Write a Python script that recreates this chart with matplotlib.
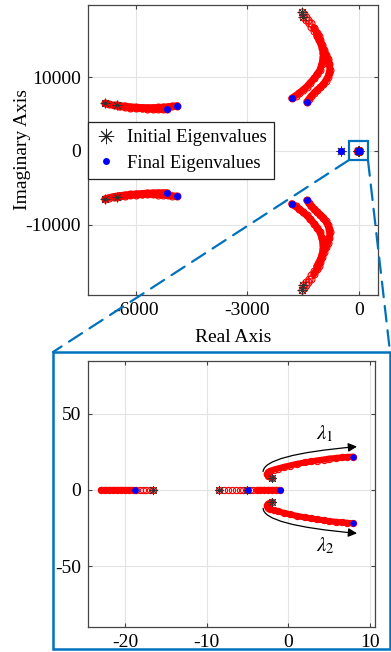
import matplotlib
matplotlib.use("Agg")
import matplotlib.pyplot as plt
import numpy as np
from matplotlib.lines import Line2D
from matplotlib.patches import Rectangle, ConnectionPatch

plt.rcParams['font.family'] = ['Liberation Serif', 'DejaVu Serif']
plt.rcParams['mathtext.fontset'] = 'stix'
plt.rcParams['axes.unicode_minus'] = False

# ---- data: large eigenvalues (upper half plane, conjugates are mirrored) ----
pathA_re = [-6840, -6720, -6600, -6450, -6300, -6150, -6000, -5850, -5700, -5550, -5400, -5280, -5175]
pathA_im = [6450, 6300, 6150, 6040, 5950, 5870, 5800, 5750, 5700, 5670, 5650, 5640, 5640]
pathB_re = [-6520, -6420, -6300, -6150, -6000, -5850, -5700, -5550, -5400, -5270, -5150, -5020, -4890]
pathB_im = [6220, 6140, 6050, 5970, 5900, 5870, 5850, 5860, 5880, 5920, 5980, 6050, 6120]
pathC_re = [-1490, -1420, -1350, -1280, -1200, -1130, -1060, -1000, -940, -880, -830, -790, -775, -790, -830, -890, -950, -1040, -1130, -1210, -1280, -1340, -1400]
pathC_im = [18150, 17700, 17250, 16750, 16200, 15600, 14950, 14300, 13650, 13000, 12400, 11800, 11000, 10500, 10000, 9500, 9000, 8600, 8200, 7800, 7400, 7030, 6660]
pathD_re = [-1540, -1480, -1420, -1360, -1290, -1210, -1130, -1080, -1043, -1010, -980, -960, -954, -970, -990, -1043, -1120, -1200, -1300, -1402, -1500, -1600, -1700, -1806]
pathD_im = [18800, 18450, 18100, 17700, 17250, 16650, 16000, 15500, 15000, 14450, 13900, 13300, 12740, 12250, 11800, 10950, 10350, 9800, 9250, 8690, 8250, 7850, 7480, 7120]
big_init_re = [-6840, -6520, -1540, -1490, -490]
big_init_im = [6450, 6220, 18800, 18150, 0]
big_final_re = [-5175, -4890, -1806, -1400, -480]
big_final_im = [5640, 6120, 7120, 6660, 0]

# ---- data: small eigenvalues (zoomed view) ----
pathF_re = [-16.6, -17.0, -17.4, -17.8, -18.2, -18.6, -19.0, -19.5, -20.0, -20.5, -21.0, -21.5, -22.0, -22.5, -23.0]
pathF_im = [0] * len(pathF_re)
pathG_re = [-8.5, -7.9, -7.4, -6.9, -6.4, -5.9, -5.5, -5.1]
pathG_im = [0] * len(pathG_re)
pathH_re = [-5.1, -4.7, -4.3, -3.9, -3.5, -3.0, -2.5, -2.0, -1.5, -1.0]
pathH_im = [0] * len(pathH_re)
pathE_re = [-2.0, -2.5, -2.65, -2.5, -2.2, -1.8, -1.3, -0.6, 0.2, 1.0, 2.0, 2.8, 3.5, 4.3, 5.0, 5.8, 6.5, 7.2, 7.96]
pathE_im = [7.7, 9.0, 10.2, 11.5, 12.5, 13.3, 14.0, 15.0, 16.0, 17.0, 18.0, 18.7, 19.3, 19.9, 20.5, 20.9, 21.3, 21.6, 21.8]
small_init_re = [-16.6, -8.5, -5.1, -2.0]
small_init_im = [0, 0, 0, 7.7]
small_final_re = [-18.8, -5.0, -1.0, 7.96]
small_final_im = [0, 0, 0, 21.8]

big_paths = [(pathA_re, pathA_im, 0), (pathB_re, pathB_im, 0),
             (pathC_re, pathC_im, 5), (pathD_re, pathD_im, 5)]
small_paths = [(pathF_re, pathF_im, 6), (pathG_re, pathG_im, 8),
               (pathH_re, pathH_im, 3), (pathE_re, pathE_im, 0)]

red = '#ff0000'
mblue = '#0072BD'


def draw_path(ax, re, im, nsparse, lw, ms):
    re = np.asarray(re, float)
    im = np.asarray(im, float)
    for sgn in (1, -1):
        if np.all(im == 0) and sgn == -1:
            continue
        ax.plot(re, sgn * im, 'o', color=red, mfc='none', ms=ms, mew=0.8, zorder=2)
        ax.plot(re[nsparse:], sgn * im[nsparse:], '-', color=red, lw=lw,
                solid_capstyle='round', zorder=2)


def draw_points(ax, ire, iim, fre, fim, ms_a, ms_b):
    ire = np.asarray(ire, float); iim = np.asarray(iim, float)
    fre = np.asarray(fre, float); fim = np.asarray(fim, float)
    ax.plot(np.r_[ire, ire], np.r_[iim, -iim], ls='none', marker=(8, 2, 0),
            color='#333333', ms=ms_a, mew=0.55, zorder=3)
    ax.plot(np.r_[fre, fre], np.r_[fim, -fim], ls='none', marker='o',
            color='#0000ff', ms=ms_b, mew=0, zorder=4)


def style(ax):
    ax.grid(True, color='#e3e3e3', lw=0.8)
    ax.set_axisbelow(True)
    for s in ax.spines.values():
        s.set_color('#444444')
        s.set_linewidth(0.9)
    ax.tick_params(direction='in', top=True, right=True, length=3,
                   labelsize=14, color='#444444', pad=5)


fig = plt.figure(figsize=(3.91, 6.52), dpi=100)
ax1 = fig.add_axes([88 / 391, 1 - 295 / 652, 290 / 391, 290 / 652])
ax2 = fig.add_axes([88.3 / 391, 1 - 626.7 / 652, 286.7 / 391, 265.7 / 652])

# top: full view
for re, im, ns in big_paths:
    draw_path(ax1, re, im, ns, 5, 5)
for re, im, ns in small_paths:
    draw_path(ax1, re, im, ns, 5, 5)
draw_points(ax1, big_init_re + small_init_re, big_init_im + small_init_im,
            big_final_re + small_final_re, big_final_im + small_final_im, 7, 5)
ax1.add_patch(Rectangle((-270, -1250), 520, 2600, fill=False, ec=mblue, lw=1.6, zorder=1))
ax1.set_xlim(-7294, 520)
ax1.set_ylim(-19460, 19730)
ax1.set_xticks([-6000, -3000, 0])
ax1.set_yticks([-10000, 0, 10000])
style(ax1)
ax1.set_xlabel('Real Axis', fontsize=14, labelpad=7)
ax1.set_ylabel('Imaginary Axis', fontsize=14, labelpad=-4)

handles = [Line2D([], [], ls='none', marker=(8, 2, 0), color='#222222', ms=11, mew=0.7),
           Line2D([], [], ls='none', marker='o', color='#0000ff', ms=5, mew=0)]
leg = ax1.legend(handles, ['Initial Eigenvalues', 'Final Eigenvalues'], loc='upper left',
                 bbox_to_anchor=(0, 0.597), borderaxespad=0, fontsize=13.3,
                 fancybox=False, framealpha=1, edgecolor='#222222',
                 handlelength=1.2, handletextpad=0.5, borderpad=0.4, labelspacing=0.46)
leg.get_frame().set_linewidth(0.9)
leg.set_zorder(5)

# bottom: zoomed view
for re, im, ns in small_paths:
    draw_path(ax2, re, im, ns, 4.5, 4.5)
draw_points(ax2, small_init_re, small_init_im, small_final_re, small_final_im, 6.5, 4.5)
ax2.set_xlim(-24.5, 10.6)
ax2.set_ylim(-89.6, 84.5)
ax2.set_xticks([-20, -10, 0, 10])
ax2.set_yticks([-50, 0, 50])
style(ax2)

for sgn, lab in ((1, r'$\lambda_1$'), (-1, r'$\lambda_2$')):
    ax2.annotate('', xy=(8.4, sgn * 28.4), xytext=(-3.1, sgn * 12.0),
                 arrowprops=dict(arrowstyle='-|>', color='k', lw=0.9, mutation_scale=13,
                                 shrinkA=0, shrinkB=0,
                                 connectionstyle='angle3,angleA=%d,angleB=%d' % (sgn * 88, sgn * 5)))
    ax2.text(4.5, sgn * 36.5, lab, fontsize=15, ha='center', va='center')

# frame around zoomed view and dashed connectors
fig.add_artist(Rectangle((53 / 391, 1 - 649.3 / 652), (390 - 53) / 391, (649.3 - 352) / 652,
                         transform=fig.transFigure, fill=False, ec=mblue, lw=1.8))
for xa, xb in ((-270, 53 / 391), (250, 390 / 391)):
    con = ConnectionPatch(xyA=(xa, -1250), coordsA=ax1.transData,
                          xyB=(xb, 1 - 352 / 652), coordsB=fig.transFigure,
                          color=mblue, lw=1.6, linestyle=(0, (7, 4)))
    fig.add_artist(con)

fig.savefig('out.png', dpi=100)
